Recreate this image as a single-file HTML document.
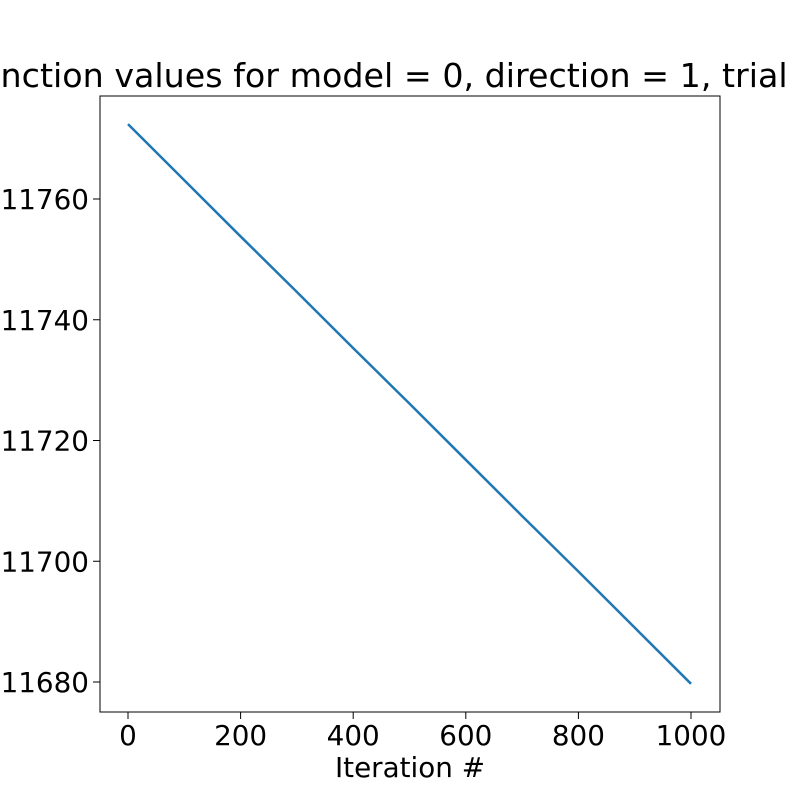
<!DOCTYPE html>
<html><head><meta charset="utf-8"><style>
body{margin:0;background:#fff;overflow:hidden;}
svg{display:block;font-family:"DejaVu Sans","Liberation Sans",sans-serif;}
</style></head><body>
<svg id="chart" width="800" height="800">
<rect width="800" height="800" fill="#fff"/>
<text x="410" y="87" text-anchor="middle" font-size="33.3">Function values for model = 0, direction = 1, trial = 0</text>
<g id="plot"></g>
<rect x="100" y="96" width="620" height="616" fill="none" stroke="#000" stroke-width="1"/>
<text x="410" y="777" text-anchor="middle" font-size="27.8">Iteration #</text>
</svg>
<script>
const iterations=[0,100,200,300,400,500,600,700,800,900,1000];
const values=[11772.4,11763.1,11753.8,11744.6,11735.3,11726.1,11716.8,11707.5,11698.3,11689.0,11679.7];
const xTicks=[0,200,400,600,800,1000];
const yTicks=[11680,11700,11720,11740,11760];
const ns='http://www.w3.org/2000/svg';
const xs=v=>128+(v-0)*(691-128)/1000;
const ys=v=>682-(v-11680)*(682-199)/80;
const g=document.getElementById('plot');
function mk(t,a){const e=document.createElementNS(ns,t);for(const k in a)e.setAttribute(k,a[k]);return e;}
xTicks.forEach(t=>{
  const l=mk('line',{x1:xs(t),x2:xs(t),y1:712,y2:719,stroke:'#000'});
  
  
  g.appendChild(l);
  const tx=mk('text',{x:xs(t),y:745,'text-anchor':'middle','font-size':27.8});
  
  
  tx.textContent=t;g.appendChild(tx);
});
yTicks.forEach(t=>{
  const l=mk('line',{x1:93,x2:100,y1:ys(t),y2:ys(t),stroke:'#000'});
  
  
  g.appendChild(l);
  const tx=mk('text',{x:89,y:ys(t)+10,'text-anchor':'end','font-size':27.8});
  
  
  tx.textContent=t;g.appendChild(tx);
});
const p=mk('polyline',{points:iterations.map((x,i)=>xs(x)+','+ys(values[i])).join(' '),fill:'none',stroke:'#1f77b4','stroke-width':2.5});


g.appendChild(p);
</script>
</body></html>
